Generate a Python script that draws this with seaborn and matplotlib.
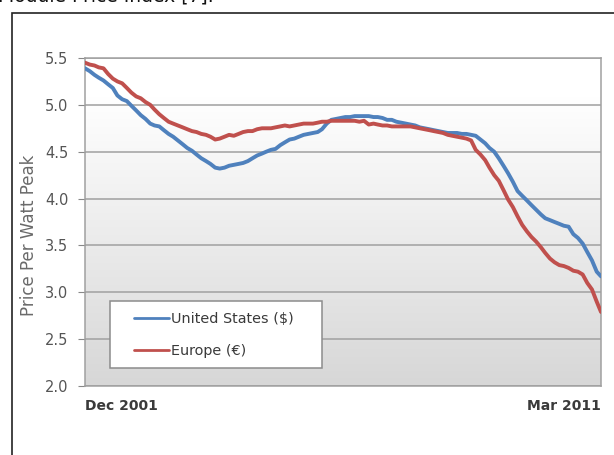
import numpy as np
import pandas as pd
import seaborn as sns
import matplotlib.pyplot as plt
from matplotlib.patches import Rectangle
from matplotlib.colors import LinearSegmentedColormap

# monthly module price index, Dec 2001 .. Mar 2011
us_price = [5.39, 5.36, 5.32, 5.29, 5.26, 5.22, 5.18, 5.10, 5.06, 5.04,
            4.99, 4.94, 4.89, 4.85, 4.80, 4.78, 4.77, 4.73, 4.69, 4.66,
            4.62, 4.58, 4.54, 4.51, 4.47, 4.43, 4.40, 4.37, 4.33, 4.32,
            4.33, 4.35, 4.36, 4.37, 4.38, 4.40, 4.43, 4.46, 4.48, 4.50,
            4.52, 4.53, 4.57, 4.60, 4.63, 4.64, 4.66, 4.68, 4.69, 4.70,
            4.71, 4.74, 4.80, 4.84, 4.85, 4.86, 4.87, 4.87, 4.88, 4.88,
            4.88, 4.88, 4.87, 4.87, 4.86, 4.84, 4.84, 4.82, 4.81, 4.80,
            4.79, 4.78, 4.76, 4.75, 4.74, 4.73, 4.72, 4.71, 4.70, 4.70,
            4.70, 4.69, 4.69, 4.68, 4.67, 4.63, 4.59, 4.54, 4.50, 4.43,
            4.35, 4.27, 4.18, 4.08, 4.03, 3.98, 3.93, 3.88, 3.83, 3.79,
            3.77, 3.75, 3.73, 3.71, 3.70, 3.62, 3.58, 3.52, 3.43, 3.34,
            3.22, 3.17]
eu_price = [5.45, 5.43, 5.42, 5.40, 5.39, 5.33, 5.28, 5.25, 5.23, 5.18,
            5.13, 5.09, 5.07, 5.03, 5.00, 4.95, 4.90, 4.86, 4.82, 4.80,
            4.78, 4.76, 4.74, 4.72, 4.71, 4.69, 4.68, 4.66, 4.63, 4.64,
            4.66, 4.68, 4.67, 4.69, 4.71, 4.72, 4.72, 4.74, 4.75, 4.75,
            4.75, 4.76, 4.77, 4.78, 4.77, 4.78, 4.79, 4.80, 4.80, 4.80,
            4.81, 4.82, 4.82, 4.83, 4.83, 4.83, 4.83, 4.83, 4.83, 4.82,
            4.83, 4.79, 4.80, 4.79, 4.78, 4.78, 4.77, 4.77, 4.77, 4.77,
            4.77, 4.76, 4.75, 4.74, 4.73, 4.72, 4.71, 4.70, 4.68, 4.67,
            4.66, 4.65, 4.64, 4.62, 4.52, 4.47, 4.41, 4.33, 4.25, 4.19,
            4.09, 3.99, 3.91, 3.81, 3.72, 3.65, 3.59, 3.54, 3.48, 3.42,
            3.36, 3.32, 3.29, 3.28, 3.26, 3.23, 3.22, 3.19, 3.10, 3.03,
            2.90, 2.79]
regions = ['United States ($)', 'Europe (€)']
region_colors = ['#4f81bd', '#c0504d']
end_labels = ['Dec 2001', 'Mar 2011']
y_ticks = [2.0, 2.5, 3.0, 3.5, 4.0, 4.5, 5.0, 5.5]

months = pd.date_range('2001-12-01', periods=len(us_price), freq='MS')
df = pd.concat([
    pd.DataFrame({'month': months, 'price': us_price, 'region': regions[0]}),
    pd.DataFrame({'month': months, 'price': eu_price, 'region': regions[1]}),
])

sns.set_style('white')
plt.rcParams['font.family'] = ['DejaVu Sans']

fig = plt.figure(figsize=(6.14, 4.55), dpi=100)
ax = fig.add_axes([85 / 614, 1 - 386 / 455, 516 / 614, 328 / 455])

# gradient plot background, white at top to light grey at bottom
grad = LinearSegmentedColormap.from_list(
    'bg', [(0, '#ffffff'), (0.12, '#ffffff'), (1, '#d7d7d7')])
ax.imshow(np.linspace(0, 1, 256).reshape(-1, 1), cmap=grad, aspect='auto',
          extent=[0, 1, 0, 1], transform=ax.transAxes, zorder=0)

sns.lineplot(data=df, x='month', y='price', hue='region', hue_order=regions,
             palette=region_colors, linewidth=2.8, ax=ax, zorder=3)

ax.set_xlim(months[0], months[-1])
ax.set_ylim(2.0, 5.5)
ax.set_yticks(y_ticks)
ax.set_yticklabels([f'{v:.1f}' for v in y_ticks], color='#555555', fontsize=10.5)
ax.yaxis.grid(True, color='#a0a0a0', linewidth=1.1, zorder=1)
ax.set_axisbelow(True)
ax.tick_params(axis='y', length=5, width=0.8, color='#888888', pad=7, left=True)
ax.set_xticks([months[0], months[-1]])
ax.set_xticklabels(end_labels, fontsize=10, fontweight='bold', color='#3a3a3a')
for lab, ha in zip(ax.get_xticklabels(), ['left', 'right']):
    lab.set_ha(ha)
ax.tick_params(axis='x', length=0, pad=9)
ax.set_xlabel('')
ax.set_ylabel('Price Per Watt Peak', color='#6a6a6a', fontsize=12, labelpad=2)
ax.yaxis.set_label_coords(-0.091, 0.46)
for s in ax.spines.values():
    s.set_color('#a0a0a0')
    s.set_linewidth(1.1)

# legend: white box drawn separately, entries placed inside it
ax.add_patch(Rectangle((25 / 516, 18 / 328), 212 / 516, 67 / 328,
                       transform=ax.transAxes, facecolor='white',
                       edgecolor='#8c8c8c', linewidth=1.1, zorder=4))
leg = ax.legend(loc='center left', bbox_to_anchor=(49 / 516, 51 / 328),
                frameon=False, fontsize=10.4, handlelength=2.4,
                handletextpad=0.15, labelspacing=1.2, borderpad=0,
                borderaxespad=0)
leg.set_zorder(5)
for line in leg.get_lines():
    line.set_linewidth(2)
for txt in leg.get_texts():
    txt.set_color('#3a3a3a')

# outer frame and the clipped caption above it
fig.patches.append(Rectangle((12 / 614, -0.1), 1.0, (455 - 13) / 455 + 0.1,
                             transform=fig.transFigure, fill=False,
                             edgecolor='#222222', linewidth=1.2))
fig.text(-2 / 614, 1 - 2 / 455, 'Module Price Index [7].', fontsize=13.5,
         va='baseline', ha='left', color='#111111')

fig.savefig('out.png', dpi=100)
